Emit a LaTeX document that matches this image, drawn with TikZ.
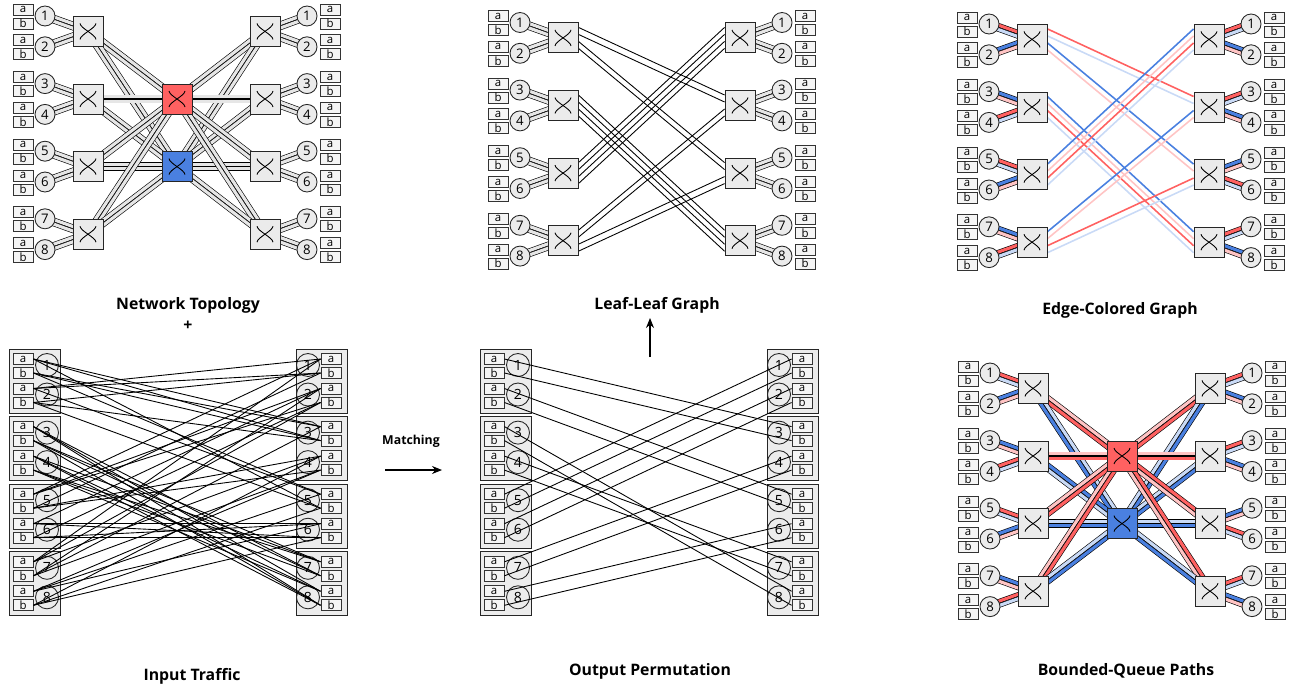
\documentclass[tikz,border=0pt]{standalone}
\usepackage{fontspec}
\setmainfont{Open Sans}
\usetikzlibrary{calc,backgrounds,arrows.meta}

\definecolor{qred}{HTML}{FF6161}
\definecolor{qredlt}{HTML}{FFC4C4}
\definecolor{qblue}{HTML}{4A80E0}
\definecolor{qbluelt}{HTML}{C9DAF6}
\definecolor{swgray}{HTML}{EBEBEB}
\definecolor{lanegray}{HTML}{E6E6E6}

\tikzset{
  port/.style={draw=black!80, fill=gray!8, line width=0.5pt, minimum width=4mm, minimum height=2.2mm, inner sep=0pt, font=\fontsize{6.5}{7}\selectfont},
  host/.style={circle, draw=black!85, fill=swgray, line width=0.5pt, minimum size=4mm, inner sep=0pt, font=\fontsize{7.5}{8}\selectfont},
  ring/.style={circle, draw=black!85, line width=0.5pt, minimum size=4.6mm, inner sep=0pt, font=\fontsize{8}{9}\selectfont},
  leaf/.style={draw=black!85, fill=swgray, line width=0.5pt, minimum size=6mm, inner sep=0pt},
  group/.style={draw=black!85, fill=gray!15, line width=0.5pt},
  lane/.style={line width=2.5pt, black},
  lanefill/.style={line width=1.8pt},
  wire/.style={line width=0.5pt},
  cwire/.style={line width=0.9pt},
  paneltitle/.style={font=\fontsize{9}{11}\selectfont\bfseries},
  flow/.style={-{Stealth[length=2mm,width=1.6mm]}, line width=0.6pt},
}

% two parallel lanes between two nodes
\newcommand{\lanepair}[4]{%
  \draw[lane] ($(#1)!1.2pt!90:(#2)$) -- ($(#2)!1.2pt!-90:(#1)$);
  \draw[lanefill,#3] ($(#1)!1.2pt!90:(#2)$) -- ($(#2)!1.2pt!-90:(#1)$);
  \draw[lane] ($(#1)!1.2pt!-90:(#2)$) -- ($(#2)!1.2pt!90:(#1)$);
  \draw[lanefill,#4] ($(#1)!1.2pt!-90:(#2)$) -- ($(#2)!1.2pt!90:(#1)$);
}

% crossbar mark inside a switch
\newcommand{\swmark}[1]{%
  \draw[line width=0.5pt] ($(#1)+(-8,-8)$) .. controls ($(#1)+(-7.5,-3)$) and ($(#1)+(7.5,3)$) .. ($(#1)+(8,8)$);
  \draw[line width=0.5pt] ($(#1)+(8,-8)$) .. controls ($(#1)+(7.5,-3)$) and ($(#1)+(-7.5,3)$) .. ($(#1)+(-8,8)$);
}

% hosts, ports and leaf switches on both sides
\newcommand{\hostrack}[3]{%
  \foreach \p in {0,...,3}{
    \pgfmathsetmacro{\ya}{#3+67.6*\p}
    \pgfmathsetmacro{\yb}{\ya+30.8}
    \pgfmathsetmacro{\yl}{\ya+15.4}
    \pgfmathtruncatemacro{\ha}{2*\p+1}
    \pgfmathtruncatemacro{\hb}{2*\p+2}
    \pgfmathtruncatemacro{\lf}{\p+1}
    \node[leaf] (#1-ls\lf) at (#2+43,\yl) {};
    \node[leaf] (#1-ld\lf) at (#2+220,\yl) {};
    \swmark{#1-ls\lf}
    \swmark{#1-ld\lf}
    \foreach \h/\y in {\ha/\ya,\hb/\yb}{
      \node[host] (#1-s\h) at (#2,\y) {\h};
      \node[host] (#1-d\h) at (#2+262,\y) {\h};
      \node[port] (#1-s\h-a) at (#2-22,\y-6.5) {a};
      \node[port] (#1-s\h-b) at (#2-22,\y+7.5) {b};
      \node[port] (#1-d\h-a) at (#2+285,\y-6.5) {a};
      \node[port] (#1-d\h-b) at (#2+285,\y+7.5) {b};
    }
  }
}

% spine switches
\newcommand{\spines}[3]{%
  \node[leaf,fill=qred] (#1-red) at (#2+132,#3+83) {};
  \node[leaf,fill=qblue] (#1-blue) at (#2+132,#3+150.6) {};
  \swmark{#1-red}
  \swmark{#1-blue}
}

% host to leaf lanes
\newcommand{\hostlinks}[2]{%
  \foreach \h/\ca/\cb/\da/\db in #2{
    \pgfmathtruncatemacro{\lf}{(\h+1)/2}
    \lanepair{#1-s\h}{#1-ls\lf}{\ca}{\cb}
    \lanepair{#1-ld\lf}{#1-d\h}{\da}{\db}
  }
}

% leaf to leaf wires
\newcommand{\leafwires}[2]{%
  \foreach \a/\sa/\b/\sb/\c in {1/1/2/1/qred, 1/2/2/2/qbluelt, 1/3/3/1/qblue, 1/4/3/2/qredlt,
      2/1/4/1/qblue, 2/2/4/2/qredlt, 2/3/4/3/qred, 2/4/4/4/qbluelt,
      3/1/1/1/qblue, 3/2/1/2/qredlt, 3/3/1/3/qred, 3/4/1/4/qbluelt,
      4/1/2/3/qblue, 4/2/2/4/qredlt, 4/3/3/3/qred, 4/4/3/4/qbluelt}{
    \draw[\c,#2] ($(#1-ls\a.east)+(0,7*\sa-17.5)$) -- ($(#1-ld\b.west)+(0,7*\sb-17.5)$);
  }
}

% port groups for the traffic views
\newcommand{\portrack}[3]{%
  \foreach \p in {0,...,3}{
    \pgfmathsetmacro{\ya}{#3+67.6*\p}
    \pgfmathsetmacro{\yb}{\ya+29.5}
    \pgfmathtruncatemacro{\ha}{2*\p+1}
    \pgfmathtruncatemacro{\hb}{2*\p+2}
    \draw[group] (#2-38,\ya-16) rectangle (#2+13,\ya+48);
    \draw[group] (#2+249,\ya-16) rectangle (#2+300,\ya+48);
    \foreach \h/\y in {\ha/\ya,\hb/\yb}{
      \node[ring] (#1-s\h) at (#2,\y) {\h};
      \node[ring] (#1-d\h) at (#2+261,\y) {\h};
      \node[port] (#1-s\h-a) at (#2-24,\y-6) {a};
      \node[port] (#1-s\h-b) at (#2-24,\y+8) {b};
      \node[port] (#1-d\h-a) at (#2+284,\y-6) {a};
      \node[port] (#1-d\h-b) at (#2+284,\y+8) {b};
    }
  }
}

\def\graylist{1/lanegray/lanegray/lanegray/lanegray, 2/lanegray/lanegray/lanegray/lanegray,
  3/lanegray/lanegray/lanegray/lanegray, 4/lanegray/lanegray/lanegray/lanegray,
  5/lanegray/lanegray/lanegray/lanegray, 6/lanegray/lanegray/lanegray/lanegray,
  7/lanegray/lanegray/lanegray/lanegray, 8/lanegray/lanegray/lanegray/lanegray}
\def\colourlist{1/qred/qbluelt/qred/qbluelt, 2/qblue/qredlt/qblue/qredlt,
  3/qblue/qredlt/qred/qbluelt, 4/qred/qbluelt/qblue/qredlt,
  5/qred/qbluelt/qblue/qredlt, 6/qblue/qredlt/qred/qbluelt,
  7/qblue/qredlt/qred/qbluelt, 8/qred/qbluelt/qblue/qredlt}
\def\permlist{1-a/3-a, 1-b/3-b, 2-a/5-a, 2-b/5-b, 3-a/8-a, 3-b/8-b, 4-a/7-a, 4-b/7-b,
  5-a/1-a, 5-b/1-b, 6-a/2-a, 6-b/2-b, 7-a/4-a, 7-b/4-b, 8-a/6-a, 8-b/6-b}

\begin{document}
\begin{tikzpicture}[x=0.02cm,y=-0.02cm]
\useasboundingbox (0,0) rectangle (1293,686);

% network topology
\hostrack{NT}{45}{16}
\spines{NT}{45}{16}
\begin{scope}[on background layer]
  \hostlinks{NT}{\graylist}
  \foreach \i in {1,...,4}{
    \lanepair{NT-ls\i}{NT-red}{lanegray}{lanegray}
    \lanepair{NT-ls\i}{NT-blue}{lanegray}{lanegray}
    \lanepair{NT-red}{NT-ld\i}{lanegray}{lanegray}
    \lanepair{NT-blue}{NT-ld\i}{lanegray}{lanegray}
  }
\end{scope}

% leaf-leaf graph
\hostrack{LL}{520}{22.5}
\begin{scope}[on background layer]
  \hostlinks{LL}{\graylist}
  \leafwires{LL}{wire,black}
\end{scope}

% edge-colored graph
\hostrack{EC}{989}{24}
\begin{scope}[on background layer]
  \hostlinks{EC}{\colourlist}
  \leafwires{EC}{cwire}
\end{scope}

% bounded-queue paths
\hostrack{BQ}{990}{373}
\spines{BQ}{990}{373}
\begin{scope}[on background layer]
  \hostlinks{BQ}{\colourlist}
  \foreach \i/\ca/\cb/\da/\db in {1/qbluelt/qblue/qredlt/qred, 2/qblue/qbluelt/qredlt/qred,
      3/qbluelt/qblue/qred/qredlt, 4/qbluelt/qblue/qred/qredlt}{
    \lanepair{BQ-ls\i}{BQ-red}{qredlt}{qred}
    \lanepair{BQ-ls\i}{BQ-blue}{\ca}{\cb}
    \lanepair{BQ-red}{BQ-ld\i}{\da}{\db}
    \lanepair{BQ-blue}{BQ-ld\i}{qbluelt}{qblue}
  }
\end{scope}

% input traffic
\portrack{IT}{47}{365}
\foreach \u/\v in \permlist
  \draw[wire] (IT-s\u.east) -- (IT-d\v.west);
\foreach \u/\v in {1-a/3-b, 1-b/5-a, 2-a/1-a, 2-b/1-b, 3-a/7-b, 3-b/7-a, 4-a/8-b, 4-b/8-a,
    5-a/2-a, 5-b/4-a, 6-a/6-a, 6-b/6-b, 7-a/2-b, 7-b/3-a, 8-a/4-b, 8-b/5-b,
    1-a/5-b, 1-b/3-a, 2-a/1-b, 2-b/3-b, 3-a/8-b, 3-b/7-b, 4-a/8-a, 4-b/7-a,
    5-a/2-b, 5-b/4-b, 6-a/6-b, 6-b/6-a, 7-a/1-a, 7-b/2-a, 8-a/5-a, 8-b/4-a}
  \draw[wire] (IT-s\u.east) -- (IT-d\v.west);

% output permutation
\portrack{OP}{518}{365}
\foreach \u/\v in \permlist
  \draw[wire] (OP-s\u.east) -- (OP-d\v.west);

% captions and arrows
\node[paneltitle] (cap-nt) at (188,305) {Network Topology};
\node[paneltitle] (cap-plus) at (188,326) {+};
\node[paneltitle] (cap-ll) at (657,305) {Leaf-Leaf Graph};
\node[paneltitle] (cap-ec) at (1120,310) {Edge-Colored Graph};
\node[paneltitle] (cap-it) at (192,676) {Input Traffic};
\node[paneltitle] (cap-op) at (650,671) {Output Permutation};
\node[paneltitle] (cap-bq) at (1126,671) {Bounded-Queue Paths};
\node[font=\fontsize{7}{8}\selectfont\bfseries] (cap-match) at (411,441) {Matching};
\coordinate (match-from) at (385,470);
\coordinate (match-to) at (442,470);
\draw[flow] (match-from) -- (match-to);
\coordinate (up-from) at (650,357);
\coordinate (up-to) at (650,318);
\draw[flow] (up-from) -- (up-to);
\end{tikzpicture}
\end{document}
